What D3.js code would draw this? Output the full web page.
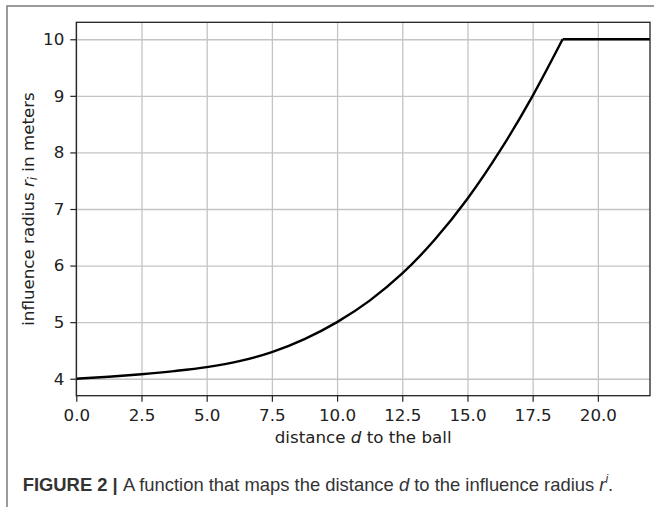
<!DOCTYPE html>
<html>
<head>
<meta charset="utf-8">
<script src="https://cdn.jsdelivr.net/npm/d3@7"></script>
<style>
  body { margin: 0; background: #fff; }
  svg { display: block; }
</style>
</head>
<body>
<div id="chart"></div>
<script>
// values
const distances = [0, 1.25, 2.5, 3.75, 5.0, 6.25, 7.5, 8.75, 10.0, 11.25, 12.5, 13.75, 15.0, 16.25, 17.5, 18.65];
const radii     = [4.0, 4.035, 4.08, 4.135, 4.205, 4.31, 4.47, 4.7, 5.0, 5.38, 5.86, 6.46, 7.18, 8.03, 9.0, 10.0];
const plateauDistances = [18.65, 22];
const plateauRadii = [10, 10];
const xTicks = [0, 2.5, 5, 7.5, 10, 12.5, 15, 17.5, 20];
const yTicks = [4, 5, 6, 7, 8, 9, 10];
const xDomain = [0, 22];
const yDomain = [3.7, 10.3];

function draw() {
  const W = 654, H = 507;
  const margin = { top: 22.3, right: 4, bottom: 111.3, left: 76.3 };
  const width = W - margin.left - margin.right;
  const height = H - margin.top - margin.bottom;

  const svg = d3.select("#chart").append("svg")
    .attr("width", W)
    .attr("height", H);

  // page frame (top and left rules)
  svg.append("path")
    .attr("d", `M7,${H} L7,6 L${W},6`)
    .attr("fill", "none")
    .attr("stroke", "#7a7a7a")
    .attr("stroke-width", 1.5);

  const g = svg.append("g")
    .attr("transform", `translate(${margin.left},${margin.top})`);

  const x = d3.scaleLinear().domain(xDomain).range([0, width]);
  const y = d3.scaleLinear().domain(yDomain).range([height, 0]);

  // grid
  g.append("g")
    .attr("transform", `translate(0,${height})`)
    .call(d3.axisBottom(x).tickValues(xTicks).tickSize(-height).tickFormat(""))
    .call(s => s.select(".domain").remove())
    .selectAll("line")
    .attr("stroke", "#c4c4c4")
    .attr("stroke-width", 1.3);
  g.append("g")
    .call(d3.axisLeft(y).tickValues(yTicks).tickSize(-width).tickFormat(""))
    .call(s => s.select(".domain").remove())
    .selectAll("line")
    .attr("stroke", "#c4c4c4")
    .attr("stroke-width", 1.3);

  // curve
  const pts = distances.map((d, i) => [d, radii[i]]);
  const flat = plateauDistances.map((d, i) => [d, plateauRadii[i]]);
  g.append("path")
    .datum(pts)
    .attr("fill", "none")
    .attr("stroke", "#000")
    .attr("stroke-width", 2.4)
    .attr("d", d3.line().x(d => x(d[0])).y(d => y(d[1])).curve(d3.curveMonotoneX));
  g.append("path")
    .datum(flat)
    .attr("fill", "none")
    .attr("stroke", "#000")
    .attr("stroke-width", 2.4)
    .attr("d", d3.line().x(d => x(d[0])).y(d => y(d[1])));

  // axes
  const font = "'DejaVu Sans', sans-serif";
  const xAxis = g.append("g")
    .attr("transform", `translate(0,${height})`)
    .call(d3.axisBottom(x).tickValues(xTicks).tickSize(6).tickPadding(7).tickFormat(d3.format(".1f")));
  const yAxis = g.append("g")
    .call(d3.axisLeft(y).tickValues(yTicks).tickSize(6).tickPadding(6).tickFormat(d3.format("d")));
  [xAxis, yAxis].forEach(a => {
    a.select(".domain").remove();
    a.selectAll("line").attr("stroke", "#222").attr("stroke-width", 1.2);
    a.selectAll("text").attr("font-family", font).attr("font-size", "16.7px").attr("fill", "#222");
  });

  // box
  g.append("rect")
    .attr("width", width)
    .attr("height", height)
    .attr("fill", "none")
    .attr("stroke", "#222")
    .attr("stroke-width", 1.3);

  // axis labels
  const xl = svg.append("text")
    .attr("x", margin.left + width / 2)
    .attr("y", 443)
    .attr("text-anchor", "middle")
    .attr("font-family", font)
    .attr("font-size", "16.7px")
    .attr("fill", "#222");
  xl.append("tspan").text("distance ");
  xl.append("tspan").attr("font-style", "italic").text("d");
  xl.append("tspan").text(" to the ball");

  const yl = svg.append("text")
    .attr("transform", `translate(33.5,${margin.top + height / 2}) rotate(-90)`)
    .attr("text-anchor", "middle")
    .attr("font-family", font)
    .attr("font-size", "16.7px")
    .attr("fill", "#222");
  yl.append("tspan").text("influence radius ");
  yl.append("tspan").attr("font-style", "italic").text("r");
  yl.append("tspan").attr("font-style", "italic").attr("font-size", "11.5px").attr("dy", 3.5).text("i");
  yl.append("tspan").attr("dy", -3.5).text(" in meters");

  // caption
  const cap = svg.append("text")
    .attr("x", 22.7)
    .attr("y", 490.7)
    .attr("font-family", "'Liberation Sans', Arial, sans-serif")
    .attr("font-size", "18.4px")
    .attr("fill", "#333");
  cap.append("tspan").attr("font-weight", "bold").text("FIGURE 2 | ");
  cap.append("tspan").text("A function that maps the distance ");
  cap.append("tspan").attr("font-style", "italic").text("d");
  cap.append("tspan").text(" to the influence radius ");
  cap.append("tspan").attr("font-style", "italic").text("r");
  cap.append("tspan").attr("font-style", "italic").attr("font-size", "12px").attr("dy", -7.5).text("i");
  cap.append("tspan").attr("dy", 7.5).text(".");
}

draw();
</script>
</body>
</html>
